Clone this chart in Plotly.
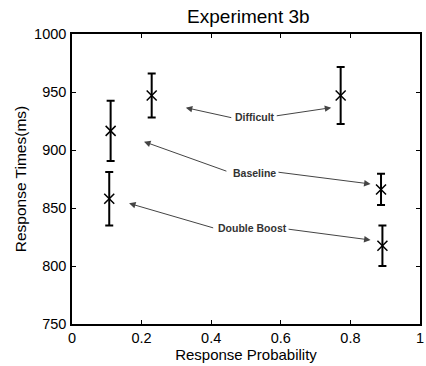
import plotly.graph_objects as go

# Data
conditions = ["Difficult", "Baseline", "Double Boost"]
resp_prob = {
    "Difficult": [0.229, 0.772],
    "Baseline": [0.111, 0.888],
    "Double Boost": [0.107, 0.892],
}
resp_time = {
    "Difficult": [947, 947],
    "Baseline": [916.5, 866],
    "Double Boost": [858, 817.5],
}
resp_err = {
    "Difficult": [19, 24.5],
    "Baseline": [26, 13.5],
    "Double Boost": [23, 17.5],
}

# Annotation label positions (data coords) and arrow targets
label_pos = {
    "Difficult": (0.527, 928.4),
    "Baseline": (0.523, 880.4),
    "Double Boost": (0.518, 832.5),
}
arrow_tails = {
    "Difficult": [(0.462, 927.6), (0.584, 929.3)],
    "Baseline": [(0.448, 881.3), (0.589, 881.0)],
    "Double Boost": [(0.410, 832.5), (0.618, 831.9)],
}
arrow_tips = {
    "Difficult": [(0.327, 936.5), (0.745, 936.5)],
    "Baseline": [(0.207, 907.2), (0.858, 870.7)],
    "Double Boost": [(0.164, 854.0), (0.858, 822.4)],
}

x_ticks = [0, 0.2, 0.4, 0.6, 0.8, 1]
x_ticklabels = ["0", "0.2", "0.4", "0.6", "0.8", "1"]
y_ticks = [750, 800, 850, 900, 950, 1000]

FONT = "Liberation Sans, Arial, Helvetica, sans-serif"

fig = go.Figure()
for c in conditions:
    fig.add_trace(go.Scatter(
        x=resp_prob[c], y=resp_time[c], mode="markers", name=c,
        marker=dict(symbol="x-thin-open", size=10, color="black",
                    line=dict(color="black", width=1.5)),
        error_y=dict(type="data", array=resp_err[c], color="black",
                     thickness=2, width=4),
        showlegend=False,
    ))

annotations = []
for c in conditions:
    lx, ly = label_pos[c]
    annotations.append(dict(
        x=lx, y=ly, xref="x", yref="y", text="<b>" + c + "</b>", showarrow=False,
        font=dict(family=FONT, size=10.5, color="#333"),
        bgcolor="white",
    ))
    for (tx, ty), (hx, hy) in zip(arrow_tails[c], arrow_tips[c]):
        annotations.append(dict(
            x=hx, y=hy, ax=tx, ay=ty, xref="x", yref="y", axref="x", ayref="y",
            text="", showarrow=True, arrowhead=2, arrowsize=1.3,
            arrowwidth=1, arrowcolor="#444", standoff=0, startstandoff=0,
        ))

fig.update_layout(
    width=426, height=366,
    margin=dict(l=72, r=2, t=34, b=42),
    paper_bgcolor="white", plot_bgcolor="white",
    font=dict(family=FONT, color="black", size=14),
    title=dict(text="Experiment 3b", x=0.583, xanchor="center", y=0.955,
               yanchor="middle", font=dict(size=19, family=FONT)),
    annotations=annotations,
    xaxis=dict(
        range=[0, 1], tickvals=x_ticks, ticktext=x_ticklabels,
        ticks="inside", ticklen=4, tickwidth=1, tickcolor="black",
        showline=True, linecolor="black", linewidth=1.5, mirror="ticks",
        showgrid=False, zeroline=False, ticklabeloverflow="allow",
        tickfont=dict(size=14.5, family=FONT),
        title=dict(text="Response Probability", standoff=3,
                   font=dict(size=15, family=FONT)),
    ),
    yaxis=dict(
        range=[750, 1000], tickvals=y_ticks,
        ticks="inside", ticklen=4, tickwidth=1, tickcolor="black",
        showline=True, linecolor="black", linewidth=1.5, mirror="ticks",
        showgrid=False, zeroline=False, ticklabelstandoff=1,
        tickfont=dict(size=14.5, family=FONT),
        title=dict(text="Response Times(ms)", standoff=4,
                   font=dict(size=15.5, family=FONT)),
    ),
)

fig.write_html("out.html")
